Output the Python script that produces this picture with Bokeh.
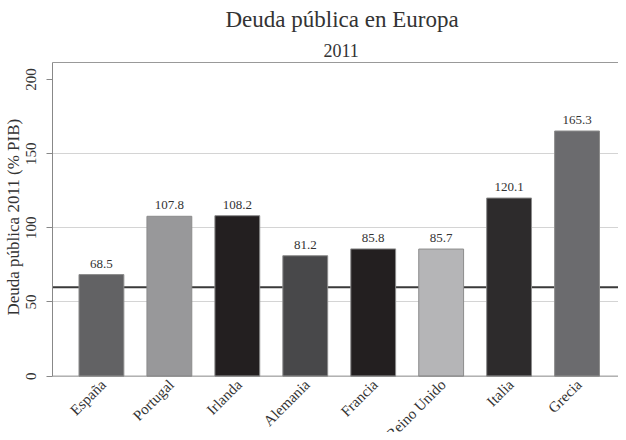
import math
from bokeh.plotting import figure
from bokeh.models import (Range1d, FixedTicker, LinearAxis, Title, Span, ColumnDataSource)
from bokeh.core.properties import value
from bokeh.embed import file_html
from bokeh.resources import INLINE

# ---- data ----
countries = ["España", "Portugal", "Irlanda", "Alemania", "Francia", "Reino Unido", "Italia", "Grecia"]
debt = [68.5, 107.8, 108.2, 81.2, 85.8, 85.7, 120.1, 165.3]
bar_colors = ["#626264", "#98989a", "#231f20", "#48484a", "#231f20", "#b5b5b7", "#2d2b2c", "#6b6b6e"]
labels = ["68.5", "107.8", "108.2", "81.2", "85.8", "85.7", "120.1", "165.3"]
y_ticks = [0, 50, 100, 150, 200]
grid_ticks = [50, 100, 150]
threshold = 60
y_top = 211.5

FONT = "Liberation Serif"

xs = list(range(len(countries)))
src = ColumnDataSource(dict(x=xs, top=debt, color=bar_colors, label=labels,
                            base=[0] * len(xs), name=countries))

# frame runs to the bottom of the canvas so the rotated category names can sit under the axis
p = figure(width=618, height=432, output_backend="svg", toolbar_location=None,
           x_range=Range1d(-0.72, 7.61), y_range=Range1d(-38.0, y_top),
           x_axis_location=None, min_border=0,
           min_border_right=0, min_border_left=46, min_border_top=8, min_border_bottom=0)
p.outline_line_color = None
p.background_fill_color = "white"
p.border_fill_color = "white"

# grid
p.xgrid.visible = False
p.ygrid.ticker = FixedTicker(ticks=grid_ticks)
p.ygrid.grid_line_color = "#d4d4d4"
p.ygrid.grid_line_width = 1

# threshold line behind bars
p.add_layout(Span(location=threshold, dimension="width", line_color="#3a3a3a",
                  line_width=2, level="underlay"))

p.vbar(x="x", top="top", bottom=0, width=0.66, fill_color="color",
       line_color="#8c8c8c", line_width=1, source=src)

# baseline (x axis line)
p.add_layout(Span(location=0, dimension="width", line_color="#888888", line_width=1))

p.text(x="x", y="top", text="label", source=src, text_align="center",
       text_baseline="bottom", y_offset=-7, text_font=value(FONT),
       text_font_size="13px", text_color="#333333")

# category names, rotated 45 degrees under each bar
p.text(x="x", y="base", text="name", source=src, angle=math.pi / 4,
       text_align="right", text_baseline="middle", y_offset=6, x_offset=2,
       text_font=value(FONT), text_font_size="15px", text_color="#333333")

# y axis
ya = p.yaxis[0]
ya.ticker = FixedTicker(ticks=y_ticks)
ya.bounds = (0, y_top)
ya.major_label_orientation = "vertical"
ya.major_label_text_font = FONT
ya.major_label_text_font_size = "15px"
ya.major_label_text_color = "#333333"
ya.axis_line_color = "#888888"
ya.major_tick_line_color = "#888888"
ya.major_tick_out = 6
ya.major_tick_in = 0
ya.minor_tick_line_color = None
ya.major_label_standoff = 10

# y axis title, centred on the 0..211.5 plot region (placed from the frame bottom)
p.add_layout(Title(text="Deuda pública 2011 (% PIB)", align="left", offset=117,
                   text_font=FONT, text_font_size="17px", text_font_style="normal",
                   text_color="#333333", standoff=2), "left")

# top border line
top = LinearAxis(ticker=FixedTicker(ticks=[]), axis_line_color="#999999",
                 major_tick_line_color=None, minor_tick_line_color=None,
                 major_label_text_font_size="0px", major_label_standoff=0)
p.add_layout(top, "above")

# titles (subtitle first so it sits closer to the plot)
p.add_layout(Title(text="2011", align="left", offset=271, text_font=FONT, text_font_size="18px",
                   text_font_style="normal", text_color="#333333", standoff=11), "above")
p.add_layout(Title(text="Deuda pública en Europa", align="left", offset=173, text_font=FONT,
                   text_font_size="23px", text_font_style="normal", text_color="#333333",
                   standoff=9), "above")

open("out.html", "w").write(file_html(p, INLINE))
